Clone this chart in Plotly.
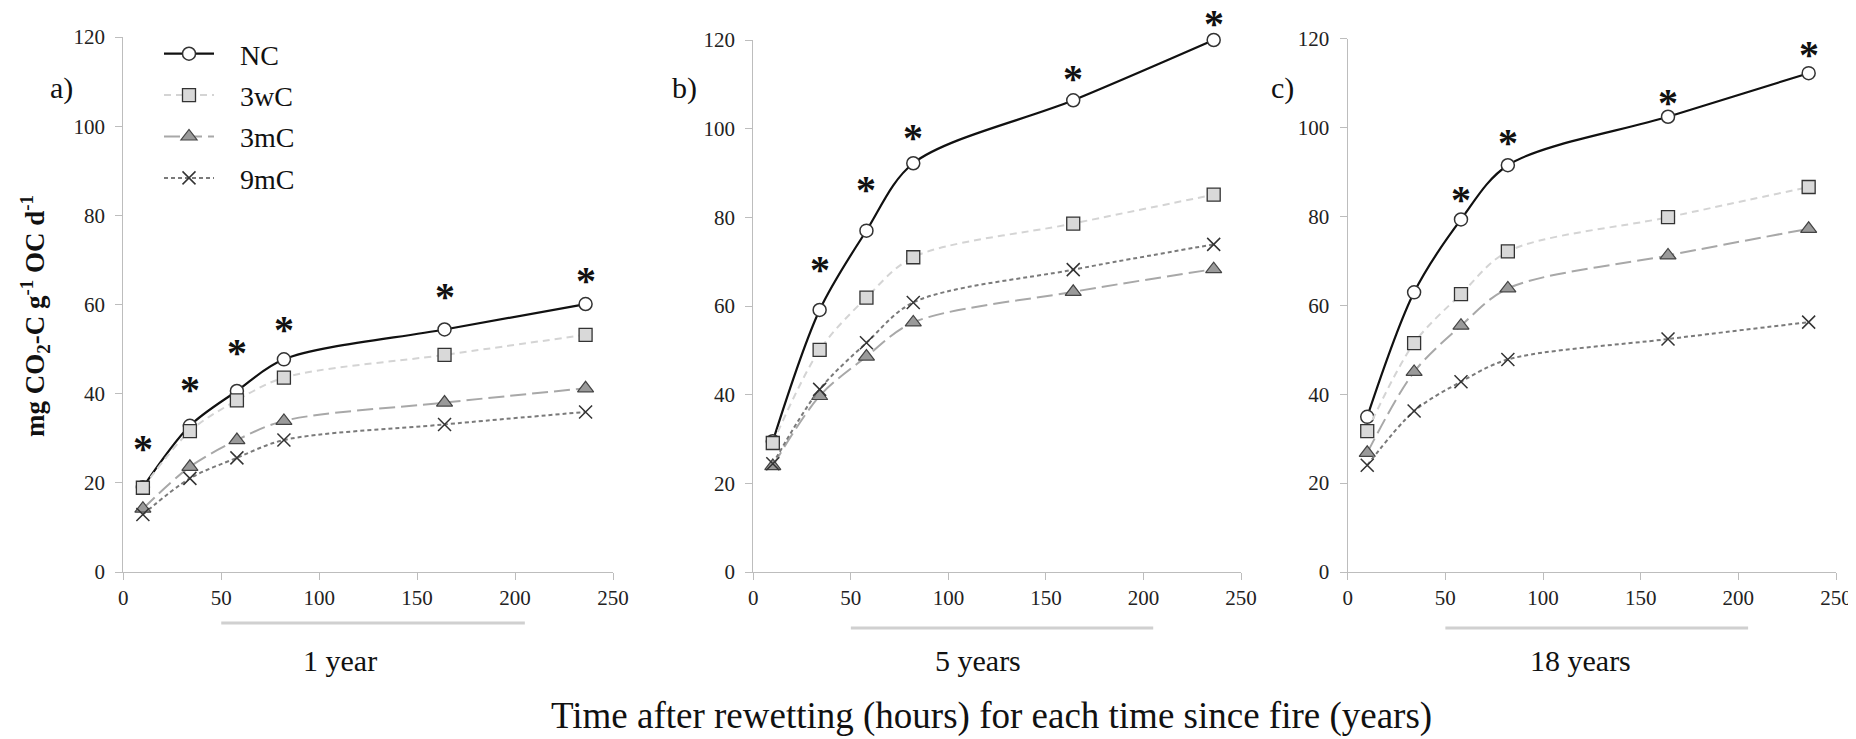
import plotly.graph_objects as go

# ---------------- data ----------------
hours = [10, 34, 58, 82, 164, 236]
series_names = ["NC", "3wC", "3mC", "9mC"]

# panel a) 1 year
a_NC = [19.0, 32.8, 40.6, 47.7, 54.4, 60.1]
a_3wC = [18.9, 31.6, 38.5, 43.6, 48.7, 53.2]
a_3mC = [14.2, 23.6, 29.6, 33.9, 38.0, 41.2]
a_9mC = [12.9, 21.0, 25.6, 29.6, 33.1, 35.9]
a_star = [28.4, 41.8, 50.1, 55.2, 62.5, 66.2]          # heights of the "*" marks

# panel b) 5 years
b_NC = [29.5, 59.1, 77.0, 92.2, 106.4, 120.0]
b_3wC = [29.1, 50.1, 61.9, 71.0, 78.6, 85.1]
b_3mC = [23.9, 39.7, 48.6, 56.3, 63.2, 68.3]
b_9mC = [24.4, 41.2, 51.7, 60.8, 68.2, 73.9]
b_star = [None, 69.1, 87.0, 98.7, 112.1, 124.6]

# panel c) 18 years
c_NC = [34.9, 62.9, 79.3, 91.5, 102.4, 112.2]
c_3wC = [31.7, 51.5, 62.5, 72.1, 79.8, 86.6]
c_3mC = [26.8, 45.0, 55.4, 63.8, 71.2, 77.2]
c_9mC = [24.0, 36.2, 42.8, 47.8, 52.4, 56.2]
c_star = [None, None, 84.5, 97.5, 106.4, 117.2]

panel_letters = ["a)", "b)", "c)"]
panel_years = ["1 year", "5 years", "18 years"]
x_ticks = [0, 50, 100, 150, 200, 250]
y_ticks = [0, 20, 40, 60, 80, 100, 120]
y_max = 120
period_span = [50, 205]
x_title = "Time after rewetting (hours) for each time since fire (years)"
y_title = "mg CO<sub>2</sub>-C g<sup>-1</sup> OC d<sup>-1</sup>"

panels = [
    (a_NC, a_3wC, a_3mC, a_9mC, a_star),
    (b_NC, b_3wC, b_3mC, b_9mC, b_star),
    (c_NC, c_3wC, c_3mC, c_9mC, c_star),
]

# ---------------- geometry ----------------
# the page body has an 8px margin; work in screen pixels and convert
OFF = 8
W, H = 1856 - OFF, 739 - OFF


def px(xs):
    return (xs - OFF) / W


def py(ys):
    return 1 - (ys - OFF) / H


FONT = "Liberation Serif, Times New Roman, serif"
styles = {
    "NC": dict(line=dict(color="#111111", width=2.2, dash="solid"),
               marker=dict(symbol="circle", size=13, color="white",
                           line=dict(color="#333333", width=1.5))),
    "3wC": dict(line=dict(color="#d4d4d4", width=2, dash="7px,5px"),
                marker=dict(symbol="square", size=13, color="#d9d9d9",
                            line=dict(color="#333333", width=1.3))),
    "3mC": dict(line=dict(color="#a8a8a8", width=2, dash="16px,6px"),
                marker=dict(symbol="triangle-up", size=14, color="#9a9a9a",
                            line=dict(color="#444444", width=1.2))),
    "9mC": dict(line=dict(color="#7a7a7a", width=2, dash="4px,3px"),
                marker=dict(symbol="x-thin", size=13, color="#333333",
                            line=dict(color="#333333", width=1.5))),
}

x_edges = [(123.3, 613), (753.3, 1241), (1347.7, 1836)]
y_tops = [37, 40, 38.5]
y_bottom = 572
letter_x = [61, 684, 1282]
bracket_y = [623, 628, 628]
year_x = [340, 978, 1580]

fig = go.Figure()
annotations = []
shapes = []
NB = "\u00a0\u00a0\u00a0"

for i, (nc, w3, m3, m9, star) in enumerate(panels):
    k = "" if i == 0 else str(i + 1)
    xa, ya = "x" + k, "y" + k
    for name, vals in zip(series_names, [nc, w3, m3, m9]):
        st = styles[name]
        fig.add_trace(go.Scatter(
            x=hours, y=vals, name=NB + name, mode="lines+markers",
            line=dict(**st["line"], shape="spline", smoothing=0.9),
            marker=st["marker"], xaxis=xa, yaxis=ya,
            showlegend=(i == 0), legendgroup=name, cliponaxis=False,
        ))
    # significance asterisks: anchored on the NC point, lifted to their height
    px_per_unit = (y_bottom - y_tops[i]) / y_max
    for xv, yv, s in zip(hours, nc, star):
        if s is None:
            continue
        annotations.append(dict(
            x=xv, y=yv, xref=xa, yref=ya, text="<b>*</b>", showarrow=False,
            font=dict(family=FONT, size=40, color="#111111"),
            xanchor="center", yanchor="middle", height=30, valign="middle",
            yshift=(s - yv) * px_per_unit - 3,
        ))
    # axis layout
    axis_common = dict(showgrid=False, zeroline=False, showline=True,
                       linecolor="#bdbdbd", linewidth=1.3, ticks="outside",
                       ticklen=7, tickcolor="#bdbdbd", tickwidth=1.3,
                       automargin=False,
                       tickfont=dict(family=FONT, size=21, color="#222222"))
    fig.layout["xaxis" + k] = dict(domain=[px(x_edges[i][0]), px(x_edges[i][1])],
                                   range=[0, 250], tickvals=x_ticks, anchor=ya,
                                   **axis_common)
    fig.layout["yaxis" + k] = dict(domain=[py(y_bottom), py(y_tops[i])],
                                   range=[0, y_max], tickvals=y_ticks, anchor=xa,
                                   ticklabelstandoff=6, **axis_common)
    # panel letter
    annotations.append(dict(
        x=px(letter_x[i]), y=py(88), xref="paper", yref="paper",
        text=panel_letters[i], showarrow=False,
        font=dict(family=FONT, size=30, color="#111111"),
        xanchor="center", yanchor="middle"))
    # period bracket + label
    shapes.append(dict(type="line", xref=xa, yref="paper",
                       x0=period_span[0], x1=period_span[1],
                       y0=py(bracket_y[i]), y1=py(bracket_y[i]),
                       line=dict(color="#d0d0d0", width=3)))
    annotations.append(dict(
        x=px(year_x[i]), y=py(660), xref="paper", yref="paper",
        text=panel_years[i], showarrow=False,
        font=dict(family=FONT, size=30, color="#111111"),
        xanchor="center", yanchor="middle"))

annotations.append(dict(
    x=px(991), y=py(716), xref="paper", yref="paper", text=x_title,
    showarrow=False, font=dict(family=FONT, size=37, color="#111111"),
    xanchor="center", yanchor="middle"))
annotations.append(dict(
    x=px(35), y=py(316), xref="paper", yref="paper", text="<b>" + y_title + "</b>",
    showarrow=False, textangle=-90, font=dict(family=FONT, size=27, color="#111111"),
    xanchor="center", yanchor="middle"))

fig.update_layout(
    width=W, height=H,
    margin=dict(l=0, r=0, t=0, b=0, autoexpand=False),
    paper_bgcolor="white", plot_bgcolor="white",
    annotations=annotations, shapes=shapes,
    legend=dict(x=px(159), y=py(29), xanchor="left", yanchor="top",
                bgcolor="rgba(255,255,255,0)", font=dict(family=FONT, size=28, color="#111111"),
                tracegroupgap=2, itemwidth=50, traceorder="grouped"),
)

fig.write_html("out.html")
